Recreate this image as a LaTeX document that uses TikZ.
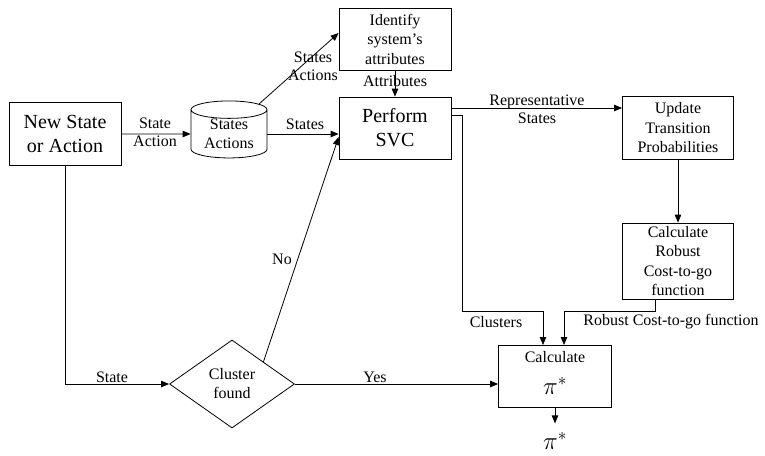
\documentclass[tikz,border=0pt]{standalone}
\usepackage{fontspec}
\setmainfont{Liberation Serif}
\usetikzlibrary{shapes.geometric}
\usetikzlibrary{arrows.meta}
\tikzset{
    box/.style={draw, minimum width=112pt, minimum height=62pt, inner sep=0pt, align=center,
        font=\fontsize{16}{19.5}\selectfont},
    bigbox/.style={box, font=\fontsize{20}{24}\selectfont},
    lbl/.style={inner sep=0pt, align=center, font=\fontsize{16}{18}\selectfont},
    arr/.style={-{Triangle[length=8pt,width=6.5pt]}}
}

\begin{document}
\begin{tikzpicture}[x=1pt,y=-1pt,line width=0.8pt]
                \useasboundingbox (0,0) rectangle (765,455);
                
                % Boxes
                \node[bigbox, minimum height=63pt] (new) at (65,134) {New State\\or Action};
                \node[draw, cylinder, shape border rotate=90, aspect=0.35, minimum width=76pt, minimum height=57pt,
                    inner sep=0pt, align=center, font=\fontsize{16}{19}\selectfont] (db) at (229,134) {States\\Actions};
                \node[box] (ident) at (395,39) {Identify\\system's\\attributes};
                \node[bigbox] (svc) at (395,128) {Perform\\SVC};
                \node[box, minimum width=111pt, minimum height=63pt] (upd) at (678,128) {Update\\Transition\\Probabilities};
                \node[box, minimum width=111pt, minimum height=76pt] (rob) at (678,261) {Calculate\\Robust\\Cost-to-go\\function};
                \node[box, minimum width=113pt] (calc) at (555,376) {};
                \node[lbl] (calctxt) at (555,357) {Calculate};
                \node[inner sep=0pt, font=\fontsize{26}{26}\selectfont] (calcpi) at (555,386) {$\pi^{*}$};
                \node[draw, diamond, minimum width=125pt, minimum height=88pt, inner sep=0pt, align=center,
                    font=\fontsize{16}{19}\selectfont] (dia) at (232,384) {Cluster\\found};
                \node[inner sep=0pt, font=\fontsize{26}{26}\selectfont] (pi) at (555,441) {$\pi^{*}$};
                
                % Connectors
                \draw[arr] (new.east) -- (db.west);
                \draw[arr] (db.north east) -- ([yshift=6pt]ident.west);
                \draw[arr] (db.east) -- (db.east -| svc.west);
                \draw[arr] (ident.south) -- (svc.north);
                \draw[arr] ([yshift=20pt]svc.east) -- ([yshift=20pt]upd.west);
                \draw[arr] ([yshift=13pt]svc.east) -- +(11,0) |- (543,311) -- (543,345);
                \draw[arr] (upd.south) -- (rob.north);
                \draw[arr] ([xshift=-23pt]rob.south) |- (564,311) -- (564,345);
                \draw[arr] (calc.south) -- ([yshift=-16pt]calc.south);
                \draw[arr] (new.south) |- (dia.west);
                \draw[arr] (dia.east) -- (dia.east -| calc.west);
                \draw[arr] (dia.north east) -- ([yshift=-9pt]svc.west);
                
                % Labels
                \node[lbl] (l1) at (155,132) {State\\Action};
                \node[lbl] (l2) at (313,66) {States\\Actions};
                \node[lbl] (l3) at (305,124) {States};
                \node[lbl] (l4) at (395,81) {Attributes};
                \node[lbl] (l5) at (537,109) {Representative\\States};
                \node[lbl] (l6) at (496,322) {Clusters};
                \node[lbl] (l7) at (671,322) {Robust Cost-to-go function};
                \node[lbl] (l8) at (112,377) {State};
                \node[lbl] (l9) at (375,377) {Yes};
                \node[lbl] (l10) at (282,259) {No};
            \end{tikzpicture}
\end{document}
